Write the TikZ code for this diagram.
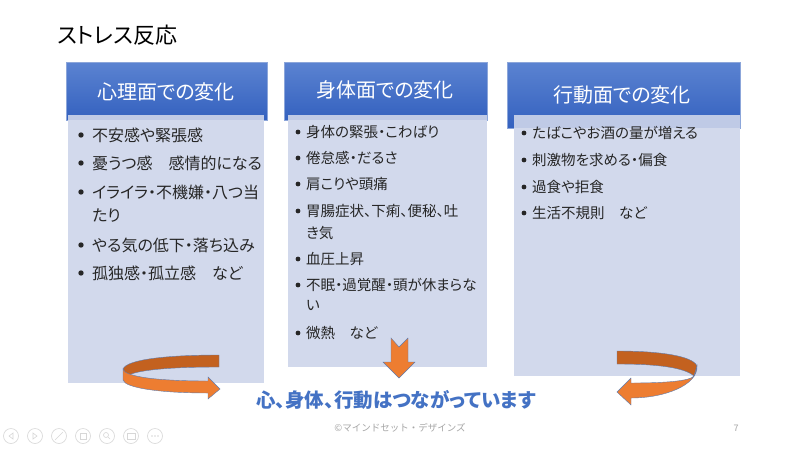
\documentclass[tikz,border=0pt]{standalone}
\usepackage{fontspec}
\setmainfont{Noto Sans CJK JP}[RawFeature=+palt]
\newfontfamily\largejp{Noto Sans CJK JP}
\usetikzlibrary{positioning}
\definecolor{Couleur1}{HTML}{5B83D1}
\definecolor{Couleur2}{HTML}{3461BF}
\definecolor{Couleur3}{HTML}{8CA6DA}
\definecolor{Couleur4}{HTML}{D2D9EC}
\definecolor{Couleur5}{HTML}{BFCAE6}
\definecolor{Couleur6}{HTML}{C3611F}
\definecolor{Couleur7}{HTML}{ED7D31}
\definecolor{Couleur8}{HTML}{5E7BAE}
\definecolor{Couleur9}{HTML}{4472C4}
\definecolor{Texte}{HTML}{262626}
\definecolor{Gris}{HTML}{A6A6A6}
\tikzset{
  entete/.style={text=white, inner sep=0pt, font=\fontsize{20}{24}\selectfont},
  item/.style={anchor=west, inner sep=0pt, text=Texte, font=\fontsize{16}{19}\selectfont},
  petititem/.style={item, font=\fontsize{14.5}{17}\selectfont},
  fleche/.style={draw=Couleur8, line width=0.4pt},
  bouton/.style={draw=Gris!45, line width=0.6pt}
}

\begin{document}
\begin{tikzpicture}[x=1pt,y=-1pt]
\useasboundingbox (0,0) rectangle (800,450);
\fill[white] (0,0) rectangle (800,450);

% Titre
\node[anchor=west, inner sep=0pt, font=\fontsize{22}{26}\selectfont] (titre) at (57,35) {ストレス反応};

% Colonne 1 : psychologique
\shade[top color=Couleur1, bottom color=Couleur2, draw=Couleur3, thin] (66,62) rectangle (267,120);
\fill[Couleur4] (68,115) rectangle (264,383);
\fill[Couleur5] (68,115) rectangle (264,120);
\node[entete] (psy) at (166,92) {心理面での変化};
\foreach \y/\t [count=\i] in {135/不安感や緊張感, 163/憂うつ感　感情的になる,
  192/イライラ・不機嫌・八つ当, 216/たり, 245/やる気の低下・落ち込み, 273/孤独感・孤立感　など}
  \node[item] (psy\i) at (92,\y) {\t};
\foreach \y in {135,163,192,245,273}
  \fill[Texte] (81,\y) circle (2.7);

% Colonne 2 : physique
\shade[top color=Couleur1, bottom color=Couleur2, draw=Couleur3, thin] (284,62) rectangle (487,120);
\fill[Couleur4] (288,115) rectangle (487,367);
\fill[Couleur5] (288,115) rectangle (487,120);
\node[entete] (corps) at (385,90) {身体面での変化};
\foreach \y/\t [count=\i] in {132/身体の緊張・こわばり, 158/倦怠感・だるさ, 184/肩こりや頭痛,
  211/胃腸症状、下痢、便秘、吐, 233/き気, 259/血圧上昇, 285/不眠・過覚醒・頭が休まらな,
  305/い, 333/微熱　など}
  \node[petititem] (corps\i) at (306,\y) {\t};
\foreach \y in {132,158,184,211,259,285,333}
  \fill[Texte] (298,\y) circle (2.4);

% Colonne 3 : comportement
\shade[top color=Couleur1, bottom color=Couleur2, draw=Couleur3, thin] (507,62) rectangle (740,128);
\fill[Couleur4] (514,115) rectangle (740,376);
\fill[Couleur5] (514,115) rectangle (740,128);
\node[entete] (action) at (622,95) {行動面での変化};
\foreach \y/\t [count=\i] in {133/たばこやお酒の量が増える, 160/刺激物を求める・偏食,
  187/過食や拒食, 213/生活不規則　など}
  \node[petititem] (action\i) at (532,\y) {\t};
\foreach \y in {133,160,187,213}
  \fill[Texte] (524,\y) circle (2.4);

% Fleche gauche
\filldraw[fleche, fill=Couleur6] (219,355) -- (219,367) .. controls (170,367) and (136,370) .. (127,376)
  -- (123,369) .. controls (127,359) and (170,355) .. (219,355) -- cycle;
\filldraw[fleche, fill=Couleur7] (123,369) .. controls (124,377) and (160,381) .. (208,381)
  -- (208,377) -- (220,389) -- (208,399) -- (208,393)
  .. controls (160,393) and (125,388) .. (123,380) -- cycle;

% Fleche du milieu
\filldraw[fleche, fill=Couleur7] (391,338) -- (399,347) -- (408,338) -- (408,362) -- (415,362)
  -- (399,378) -- (383,362) -- (391,362) -- cycle;

% Fleche droite
\filldraw[fleche, fill=Couleur6] (617,351) -- (617,364) .. controls (660,364) and (685,368) .. (694,376)
  -- (697,366) .. controls (693,356) and (660,351) .. (617,351) -- cycle;
\filldraw[fleche, fill=Couleur7] (697,366) .. controls (698,385) and (665,398) .. (631,398)
  -- (631,405) -- (617,392) -- (631,378) -- (631,383)
  .. controls (665,383) and (690,381) .. (694,376) -- cycle;

% Conclusion
\node[inner sep=0pt, text=Couleur9, font=\bfseries\fontsize{19.5}{24}\selectfont] (lien) at (396,400) {心、身体、行動はつながっています};
\node[inner sep=0pt, text=Gris, font=\largejp\fontsize{9.5}{11}\selectfont] (copy) at (400,428) {©マインドセット・デザインズ};
\node[inner sep=0pt, text=Gris, font=\fontsize{9}{11}\selectfont] (page) at (736,428) {7};

% Boutons du diaporama
\foreach \x in {11,35,59,83,107,131,155}
  \draw[bouton] (\x,436) circle (7.5);
\draw[bouton] (13,433) -- (9,436) -- (13,439) -- cycle;
\draw[bouton] (33,433) -- (37,436) -- (33,439) -- cycle;
\draw[bouton] (55,440) -- (63,432);
\draw[bouton] (80,433) rectangle (86,439);
\draw[bouton] (106,435) circle (2.5) (108,437) -- (110,439);
\draw[bouton] (127,433) rectangle (135,439);
\foreach \x in {152,155,158}
  \fill[Gris!45] (\x,436) circle (0.8);
\end{tikzpicture}
\end{document}
